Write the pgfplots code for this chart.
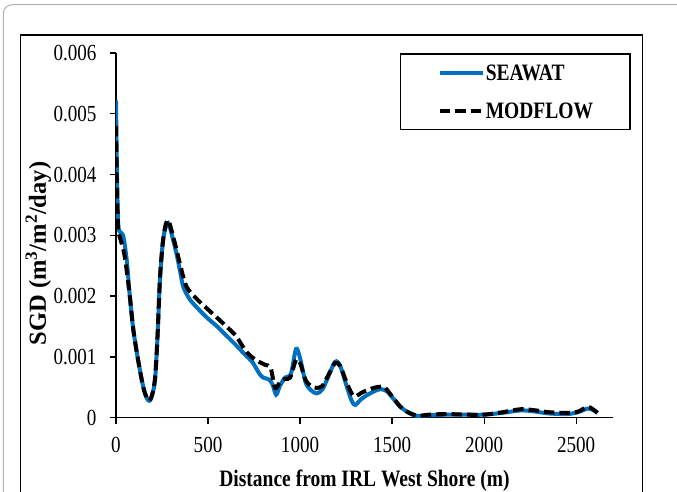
\documentclass[border=0pt]{standalone}
\usepackage{pgfplots}
\pgfplotsset{compat=1.18}
\usepackage{fontspec}
\setmainfont{Liberation Serif}[FakeStretch=0.83]
\newfontfamily\ylabfont{Liberation Serif}
\definecolor{seablue}{RGB}{0,112,192}
\begin{document}
\begin{tikzpicture}
\useasboundingbox (0,0) rectangle (677pt,492pt);
\begin{scope}
\clip (0,0) rectangle (677pt,492pt);
\draw[black!30, line width=1pt, rounded corners=9pt] (3.3pt,-30pt) rectangle (710pt,487.3pt);
\draw[black, line width=1.5pt] (20.7pt,-30pt) rectangle (642.7pt,457pt);
\end{scope}
\begin{axis}[
  at={(116pt,74.3pt)}, anchor=south west,
  scale only axis, width=497pt, height=364.7pt,
  xmin=0, xmax=2700, ymin=0, ymax=0.006,
  axis x line*=bottom, axis y line*=left,
  axis line style={line width=1.3pt, black, -},
  tick align=outside, major tick length=6pt,
  tick style={line width=1.3pt, black},
  xtick={0,500,1000,1500,2000,2500},
  xticklabels={0,500,1000,1500,2000,2500},
  ytick={0,0.001,0.002,0.003,0.004,0.005,0.006},
  yticklabels={0,0.001,0.002,0.003,0.004,0.005,0.006},
  scaled y ticks=false,
  ticklabel style={font=\fontsize{23}{23}\selectfont},
  yticklabel style={xshift=-10pt},
  xticklabel style={yshift=-10pt},
  xlabel={\fontsize{23.5}{23.5}\selectfont\bfseries Distance from IRL West Shore (m)},
  xlabel style={at={(axis description cs:0.5,0)}, anchor=center, yshift=-63pt},
  ylabel={\fontsize{24.5}{24.5}\ylabfont\bfseries SGD (m\textsuperscript{3}/m\textsuperscript{2}/day)},
  ylabel style={at={(axis description cs:-0.1563,0.45)}, anchor=center},
  legend cell align=left,
  legend style={at={(axis description cs:1.0356,0.9992)}, anchor=north east,
    draw=black, line width=1.3pt, inner xsep=37pt, inner ysep=11pt,
    row sep=21.7pt,
    font=\fontsize{23.5}{23.5}\selectfont\bfseries,
    nodes={inner sep=0pt, text height=16pt, text depth=0pt},
    /tikz/every odd column/.append style={column sep=1pt}},
  legend image code/.code={\draw[#1] (0pt,0pt) -- (43pt,0pt);},
]
\addplot[seablue, line width=4pt, smooth, tension=0.5] coordinates {
(0,0.00522) (5,0.0041) (12,0.00318) (25,0.00305) (40,0.00298) (58,0.0026)
(75,0.0020) (94,0.00145) (120,0.00095) (148,0.00051) (168,0.00032) (181,0.00028)
(195,0.00036) (212,0.00062) (225,0.0013) (239,0.00228) (255,0.0029) (270,0.00313)
(284,0.0032) (300,0.00305) (330,0.00268) (350,0.00238) (366,0.00215) (400,0.00195)
(450,0.00178) (500,0.00163) (550,0.0015) (600,0.00135) (650,0.0012) (700,0.00104)
(740,0.00092) (780,0.00072) (800,0.00066) (830,0.00063) (850,0.00055) (870,0.00038)
(890,0.00052) (918,0.00066) (950,0.00072) (978,0.00113) (1000,0.00098) (1030,0.00058)
(1060,0.00045) (1090,0.00040) (1120,0.00046) (1150,0.00065) (1190,0.00092) (1218,0.00085)
(1250,0.00055) (1280,0.00028) (1300,0.00021) (1330,0.00030) (1380,0.00040) (1436,0.00047)
(1473,0.00043) (1510,0.00030) (1545,0.00018) (1580,0.0001) (1618,0.00004) (1650,0.00003)
(1700,0.00004) (1800,0.00005) (1900,0.00005) (2000,0.00005) (2100,0.00008) (2200,0.00012)
(2280,0.0001) (2350,0.00007) (2450,0.00006) (2510,0.00009) (2561,0.00015) (2590,0.00013)
(2616,0.00008)
};
\addlegendentry{SEAWAT}
\addplot[black, line width=4pt, dash pattern=on 10.5pt off 5pt, smooth, tension=0.5] coordinates {
(0,0.0048) (5,0.0038) (12,0.0031) (20,0.00298) (47,0.00266) (75,0.0020)
(94,0.00145) (120,0.00095) (148,0.0005) (168,0.00032) (181,0.00028) (195,0.00036)
(212,0.00065) (225,0.0013) (239,0.0023) (255,0.0029) (270,0.00318) (284,0.00325)
(300,0.0031) (330,0.00275) (350,0.0025) (384,0.00215) (450,0.00192) (500,0.00178)
(547,0.00165) (600,0.0015) (650,0.00135) (710,0.00108) (760,0.00095) (810,0.00087)
(840,0.00082) (864,0.00049) (890,0.00058) (920,0.00064) (946,0.00066) (978,0.00095)
(1000,0.0009) (1030,0.00062) (1060,0.00052) (1090,0.00049) (1120,0.00052) (1150,0.00068)
(1190,0.0009) (1218,0.00085) (1250,0.0006) (1280,0.0004) (1300,0.00035) (1340,0.00042)
(1400,0.00049) (1436,0.00051) (1460,0.0005) (1500,0.00035) (1545,0.00018) (1580,0.0001)
(1618,0.00005) (1650,0.00003) (1700,0.00005) (1800,0.00006) (1900,0.00005) (2000,0.00005)
(2100,0.00009) (2200,0.00014) (2280,0.00012) (2350,0.00009) (2450,0.00008) (2510,0.0001)
(2561,0.00018) (2590,0.00014) (2616,0.00008)
};
\addlegendentry{MODFLOW}
\end{axis}
\end{tikzpicture}
\end{document}
